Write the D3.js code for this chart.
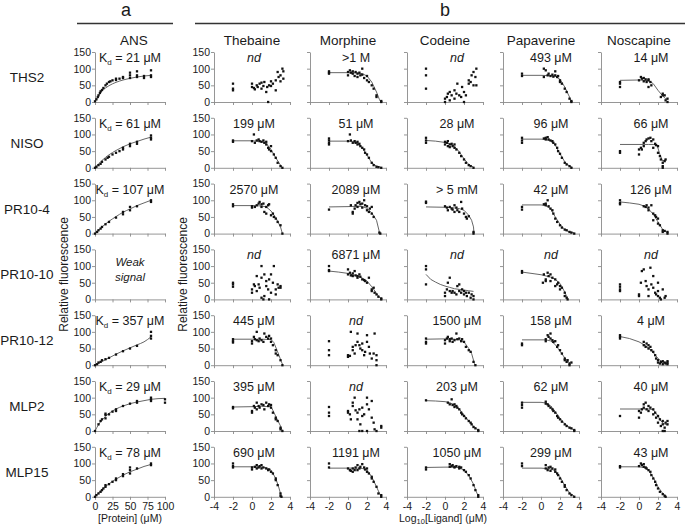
<!DOCTYPE html>
<html><head><meta charset="utf-8">
<script src="https://cdn.jsdelivr.net/npm/d3@7/dist/d3.min.js"></script>
<style>body{margin:0;background:#fff}svg{display:block;font-family:"Liberation Sans",Arial,sans-serif}</style>
</head><body><svg id="c" width="685" height="526"></svg>
<script>
const rows = ["THS2","NISO","PR10-4","PR10-10","PR10-12","MLP2","MLP15"];
const columns = ["ANS","Thebaine","Morphine","Codeine","Papaverine","Noscapine"];
const ansXTicks = [0,25,50,75,100];
const ligXTicks = [-4,-2,0,2,4];
const yTicks = [0,50,100,150];

// annotation text per row, in column order (ANS Kd value, then ligand labels)
const ansKd = ["21","61","107",null,"357","29","78"];
const lab_THS2 = ["nd",">1 M","nd","493 μM","14 μM"];
const lab_NISO = ["199 μM","51 μM","28 μM","96 μM","66 μM"];
const lab_PR10_4 = ["2570 μM","2089 μM","> 5 mM","42 μM","126 μM"];
const lab_PR10_10 = ["nd","6871 μM","nd","nd","nd"];
const lab_PR10_12 = ["445 μM","nd","1500 μM","158 μM","4 μM"];
const lab_MLP2 = ["395 μM","nd","203 μM","62 μM","40 μM"];
const lab_MLP15 = ["690 μM","1191 μM","1050 μM","299 μM","43 μM"];

// ---------- THS2 ----------
const THS2_ANS = [[0,2],[2,8],[4,15],[5,20],[7,27],[8,32],[10,36],[12,42],[15,50],[17,55],[20,60],[22,62],[25,65],[30,66],[30,70],[35,70],[40,72],[40,75],[50,72],[50,80],[50,88],[60,75],[60,80],[60,92],[70,78],[70,72],[80,75],[80,80],[80,95]];
const THS2_ANS_fit = [[0,0],[5,19],[10,33],[15,42],[20,49],[30,59],[40,66],[50,71],[60,75],[70,78],[80,80]];
const THS2_Thebaine = [[-2,55],[-2,40],[-2,35],[0,55],[0,45],[0.2,42],[0.3,38],[0.5,50],[0.6,45],[0.8,55],[1,58],[1,40],[1.2,48],[1.3,60],[1.5,30],[1.6,45],[1.8,50],[2,62],[2,48],[2.2,55],[2.5,35],[2.5,65],[2.7,90],[2.8,75],[3,62],[3,80],[3.2,100],[3.3,92],[3.3,70],[1.7,0]];
const THS2_Morphine = [[-2,92],[-2,88],[-2,85],[0,90],[0,80],[0.2,95],[0.3,88],[0.5,92],[0.5,85],[0.7,78],[0.8,90],[1,85],[1,75],[1.2,88],[1.3,80],[1.5,82],[1.5,100],[1.7,72],[2,78],[2,65],[2.2,60],[2.5,50],[2.7,40],[3,20],[3,15],[3.5,0],[3.5,3]];
const THS2_Morphine_fit = [[-2,88],[0,88],[1,87],[1.5,85],[2,78],[2.5,60],[3,30],[3.3,8],[3.45,0]];
const THS2_Codeine = [[-2,100],[-2,80],[-2,40],[0,0],[0,10],[0.2,15],[0.3,25],[0.5,30],[0.5,5],[0.7,20],[1,10],[1,35],[1.2,25],[1.3,55],[1.5,20],[1.7,15],[1.8,45],[2,30],[2,0],[2.2,20],[2.5,65],[2.5,55],[2.7,60],[2.8,80],[3,50],[3,90],[3.2,75],[3.3,100],[3.3,50]];
const THS2_Papaverine = [[-2,85],[-2,78],[0.3,100],[0.5,95],[0.3,75],[0.7,80],[0.8,85],[1,78],[1.2,82],[1.3,76],[1.5,80],[1.5,92],[1.7,75],[1.8,78],[2,60],[2,65],[2.2,55],[2.5,40],[2.7,30],[3,10],[3.2,0],[3.2,3]];
const THS2_Papaverine_fit = [[-2,80],[0,80],[1,79],[1.5,77],[2,68],[2.5,45],[3,15],[3.2,0]];
const THS2_Noscapine = [[-2,60],[-2,55],[-2,45],[0,65],[0.2,75],[0.3,70],[0.5,72],[0.5,62],[0.7,68],[0.8,60],[1,65],[1,45],[1.2,60],[1.3,50],[1,68],[2.3,15],[2.5,25],[2.5,20],[2.7,20],[2.8,5],[3,10],[3,0]];
const THS2_Noscapine_fit = [[-2,65],[0,66],[1,64],[1.5,55],[2,35],[2.5,18],[2.8,10],[3,8]];

// ---------- NISO ----------
const NISO_ANS = [[0,0],[2,3],[5,8],[8,12],[10,18],[15,25],[18,30],[20,33],[25,40],[30,45],[35,50],[40,55],[40,60],[50,65],[50,72],[60,72],[60,78],[80,85],[80,90],[80,97]];
const NISO_ANS_fit = [[0,0],[10,22],[20,39],[30,52],[40,63],[50,72],[60,79],[70,86],[80,92]];
const NISO_Thebaine = [[-2,82],[-2,78],[0,80],[0.2,100],[0.3,75],[0.5,82],[0.7,85],[0.8,80],[1,78],[1.2,82],[1.3,75],[1.5,70],[1.5,78],[1.7,60],[1.8,55],[2,65],[2,50],[2.3,40],[2.5,30],[2.7,15],[3,5],[3.2,0]];
const NISO_Thebaine_fit = [[-2,81],[0,81],[1,79],[1.5,73],[2,55],[2.5,30],[3,8],[3.2,0]];
const NISO_Morphine = [[-2,88],[-2,82],[-2,75],[-2,70],[0,80],[0.2,100],[0.3,82],[0.5,75],[0.7,80],[0.8,75],[1,78],[1,70],[1.2,72],[1.3,65],[1.5,60],[1.7,55],[1.8,45],[2,40],[2.2,30],[2.5,15],[2.7,8],[3,3],[3.2,2],[3.5,0]];
const NISO_Morphine_fit = [[-2,80],[0,80],[0.5,79],[1,74],[1.5,60],[2,38],[2.5,15],[3,5],[3.5,1]];
const NISO_Codeine = [[-2,90],[-2,82],[-2,75],[0,78],[0,70],[0.2,75],[0.3,65],[0.3,80],[0.5,70],[0.5,62],[0.7,72],[0.8,65],[1,60],[1,70],[1.2,55],[1.5,45],[1.7,35],[2,25],[2.2,15],[2.5,8],[2.7,5],[3,0]];
const NISO_Codeine_fit = [[-2,82],[-1,80],[0,76],[0.5,72],[1,64],[1.5,48],[2,27],[2.5,10],[3,2]];
const NISO_Papaverine = [[-2,90],[-2,82],[-2,75],[0.3,88],[0.5,90],[0.5,85],[0.7,92],[0.8,85],[1,82],[1.2,80],[1.3,75],[1.5,70],[1.7,60],[1.8,50],[2,42],[2.2,30],[2.5,15],[2.7,10],[3,5],[3.2,0]];
const NISO_Papaverine_fit = [[-2,86],[0,86],[0.5,85],[1,81],[1.5,68],[2,42],[2.5,18],[3,5],[3.3,1]];
const NISO_Noscapine = [[-2,50],[-2,45],[0,40],[0,55],[0.2,60],[0.3,55],[0.5,65],[0.5,75],[0.7,80],[0.8,85],[1,88],[1.2,90],[1.3,80],[1.5,85],[1.5,60],[1.7,72],[1.8,68],[2,65],[2,45],[2.2,35],[2.3,25],[2.5,15],[2.5,5],[2.7,20],[2.8,25],[2.5,0]];
const NISO_Noscapine_fit = [[-2,70],[0,70],[1,70],[1.5,70],[1.9,68],[2.2,40],[2.5,20],[2.8,25]];

// ---------- PR10-4 ----------
const PR10_4_ANS = [[0,0],[3,5],[5,10],[8,15],[10,20],[15,28],[20,35],[30,48],[40,58],[40,65],[50,70],[50,80],[60,82],[80,95],[80,100]];
const PR10_4_ANS_fit = [[0,0],[10,20],[20,37],[30,51],[40,64],[50,74],[60,84],[70,92],[80,100]];
const PR10_4_Thebaine = [[-2,88],[-2,82],[0,82],[0,78],[0.3,80],[0.5,85],[0.7,90],[0.8,95],[1,88],[1,80],[1.2,90],[1.3,65],[1.5,60],[1.5,80],[1.7,85],[1.8,88],[2,55],[2.2,60],[2.3,50],[2.5,45],[2.7,35],[3,25],[3.2,0]];
const PR10_4_Thebaine_fit = [[-2,84],[0,84],[1,83],[1.5,80],[2,68],[2.5,48],[3,20],[3.2,0]];
const PR10_4_Morphine = [[-2,72],[0.3,85],[0.5,60],[0.5,65],[0.7,75],[0.8,85],[1,92],[1,80],[1.2,95],[1.3,88],[1.5,90],[1.5,78],[1.7,100],[1.8,85],[2,82],[2,70],[2.2,65],[2.3,75],[2.5,80],[2.5,60],[2.7,50],[3.3,3],[3.4,0]];
const PR10_4_Morphine_fit = [[-2,80],[0,81],[1,82],[1.5,81],[2,76],[2.5,62],[3,40],[3.3,5],[3.4,0]];
const PR10_4_Codeine = [[-2,96],[-2,92],[0,82],[0.2,78],[0.3,70],[0.5,80],[0.7,75],[0.8,72],[1,85],[1,65],[1.2,78],[1.3,70],[1.5,65],[1.7,95],[1.8,75],[2,60],[2.2,50],[2.3,45],[2.5,52],[3,5],[3,0]];
const PR10_4_Codeine_fit = [[-2,80],[0,79],[1,77],[1.5,75],[2,70],[2.5,55],[2.8,40],[3,20],[3.05,0]];
const PR10_4_Papaverine = [[-2,80],[-2,72],[0.3,88],[0.5,90],[0.5,85],[0.7,100],[0.8,82],[1,75],[1.2,70],[1.3,60],[1.5,45],[1.7,35],[2,25],[2.2,18],[2.5,12],[2.7,10],[3,5],[3.2,3],[3.5,0]];
const PR10_4_Papaverine_fit = [[-2,86],[0,86],[0.5,84],[1,75],[1.5,50],[2,28],[2.5,12],[3,5],[3.5,2]];
const PR10_4_Noscapine = [[-2,100],[-2,92],[-2,88],[0.5,82],[0.7,80],[0.8,85],[1,78],[1,70],[1.3,85],[1.5,60],[1.5,40],[1.7,55],[1.8,50],[2,30],[2,45],[2.2,25],[2.5,10],[2.5,5],[2.7,8],[3,5],[3,0]];
const PR10_4_Noscapine_fit = [[-2,95],[-1,92],[0,88],[0.5,83],[1,74],[1.5,58],[2,35],[2.5,12],[3,3]];

// ---------- PR10-10 ----------
const PR10_10_Thebaine = [[-2,50],[-2,45],[-2,38],[0,30],[0,20],[0.2,45],[0.3,40],[0.5,70],[0.5,25],[0.7,45],[0.8,35],[1,100],[1,65],[1,5],[1.2,0],[1.3,75],[1.3,10],[1.5,55],[1.5,40],[1.7,30],[1.8,60],[1.8,0],[2,75],[2,20],[2.2,50],[2.3,100],[2.5,30],[2.5,15],[2.7,45],[2.8,35],[3,40],[3,35]];
const PR10_10_Morphine = [[-2,100],[-2,88],[-2,85],[0,90],[0,75],[0.2,80],[0.3,72],[0.5,78],[0.5,70],[0.7,85],[0.8,72],[1,70],[1,65],[1.2,75],[1.3,68],[1.5,60],[1.7,58],[1.8,55],[2,50],[2.2,65],[2.5,30],[2.5,25],[2.7,35],[2.8,20],[3,15],[3.2,8],[3.5,3],[3.5,0]];
const PR10_10_Morphine_fit = [[-2,85],[-1,82],[0,78],[1,70],[1.5,64],[2,55],[2.5,38],[3,18],[3.5,0]];
const PR10_10_Codeine = [[-2,100],[-2,90],[-2,45],[0,20],[0,10],[0.2,30],[0.3,50],[0.5,65],[0.5,25],[0.7,20],[0.8,25],[1,20],[1.2,15],[1.3,40],[1.5,45],[1.5,25],[1.7,20],[1.8,30],[2,15],[2,25],[2.2,20],[2.3,10],[2.5,20],[2.7,5],[2.8,15],[3,10],[3,0]];
const PR10_10_Codeine_fit = [[-2,75],[-1.5,60],[-1,52],[-0.5,45],[0,40],[0.5,36],[1,32],[1.5,30],[2,28],[2.5,26],[3,24]];
const PR10_10_Papaverine = [[-2,85],[-2,80],[0.2,50],[0.3,75],[0.5,60],[0.5,55],[0.7,80],[0.8,70],[1,75],[1,55],[1.2,65],[1.5,60],[1.5,40],[1.7,45],[1.8,50],[2,40],[2,30],[2.2,35],[2.5,20],[2.5,10],[2.7,5],[2.8,0]];
const PR10_10_Papaverine_fit = [[-2,82],[0,74],[1,67],[1.5,60],[2,48],[2.5,22],[2.8,3]];
const PR10_10_Noscapine = [[-2,45],[-2,38],[-2,30],[-2,25],[0,15],[0,10],[0.2,50],[0.3,85],[0.5,90],[0.7,55],[0.8,40],[1,30],[1,10],[1.2,95],[1.3,45],[1.5,70],[1.5,35],[1.7,20],[1.8,15],[2,25],[2,10],[2,50],[2.2,5],[2.3,0],[2.5,30],[2.7,5],[2.8,10]];

// ---------- PR10-12 ----------
const PR10_12_ANS = [[0,0],[3,3],[5,8],[8,10],[10,15],[15,18],[20,22],[30,32],[40,42],[50,50],[60,58],[80,80],[80,88],[80,100]];
const PR10_12_ANS_fit = [[0,0],[10,11],[20,22],[30,33],[40,43],[50,52],[60,61],[70,70],[80,85]];
const PR10_12_Thebaine = [[-2,78],[-2,72],[-2,68],[0,72],[0,65],[0.2,85],[0.3,78],[0.5,75],[0.5,100],[0.7,72],[0.8,80],[1,75],[1.2,70],[1.3,95],[1.5,85],[1.7,80],[1.8,88],[2,80],[2,70],[2.2,60],[2.5,45],[2.5,35],[2.7,30],[3,15],[3.2,0]];
const PR10_12_Thebaine_fit = [[-2,78],[0,78],[1,78],[2,77],[2.3,68],[2.7,40],[3.1,10],[3.25,0]];
const PR10_12_Morphine = [[-2,72],[-2,45],[-2,30],[0,30],[0,25],[0.2,28],[0.3,100],[0.5,55],[0.5,45],[0.7,35],[0.8,60],[1,95],[1,70],[1.2,60],[1.3,50],[1.5,65],[1.5,45],[1.7,30],[1.8,40],[2,90],[2,70],[2.2,55],[2.3,35],[2.5,20],[2.7,35],[2.8,95],[3,30],[3,15],[3,0]];
const PR10_12_Codeine = [[-2,80],[-2,70],[-2,65],[0,75],[0,65],[0.2,80],[0.3,85],[0.5,78],[0.5,72],[0.7,80],[0.8,70],[1,75],[1.2,95],[1.3,78],[1.5,80],[1.7,72],[1.8,78],[2,70],[2.2,55],[2.5,45],[2.7,40],[3,10],[3.2,0]];
const PR10_12_Codeine_fit = [[-2,78],[0,79],[1,78],[1.5,76],[2,70],[2.5,50],[2.8,35],[3.1,5],[3.2,0]];
const PR10_12_Papaverine = [[-2,65],[-2,60],[0.5,78],[0.5,72],[0.7,90],[0.8,85],[1,95],[1,80],[1.2,75],[1.3,70],[1.5,72],[1.7,55],[1.8,60],[2,45],[2.2,35],[2.5,20],[2.5,15],[2.7,10],[2.8,15],[3,5],[3,0],[3.2,8]];
const PR10_12_Papaverine_fit = [[-2,76],[0,76],[0.5,76],[1,73],[1.5,62],[2,42],[2.5,22],[2.8,12],[3,8]];
const PR10_12_Noscapine = [[-2,90],[-2,85],[-2,80],[0.5,70],[0.5,60],[0.7,55],[0.8,65],[1,50],[1,60],[1.2,55],[1.3,45],[1.5,40],[1.7,30],[1.8,20],[2,15],[2,8],[2.2,5],[2.3,10],[2.5,12],[2.5,3],[2.7,8],[2.8,5],[3,12],[3,8],[3,3]];
const PR10_12_Noscapine_fit = [[-2,86],[-1,80],[0,70],[0.5,62],[1,52],[1.5,38],[2,20],[2.5,8],[3,6]];

// ---------- MLP2 ----------
const MLP2_ANS = [[0,0],[5,20],[8,30],[10,35],[15,38],[15,48],[15,52],[20,50],[25,58],[30,60],[30,65],[40,75],[50,82],[60,85],[60,90],[80,90],[80,95],[80,100],[100,85],[100,95]];
const MLP2_ANS_fit = [[0,0],[5,19],[10,33],[15,44],[20,53],[30,66],[40,75],[50,82],[60,87],[70,91],[80,95],[100,98]];
const MLP2_Thebaine = [[-2,72],[-2,68],[0,60],[0,55],[0.2,75],[0.3,70],[0.5,85],[0.5,65],[0.7,75],[0.8,70],[1,80],[1.2,78],[1.3,65],[1.5,85],[1.7,75],[1.8,80],[2,78],[2,70],[2.2,55],[2.5,40],[2.5,35],[2.7,30],[3,10],[3,5],[3.2,0]];
const MLP2_Thebaine_fit = [[-2,72],[0,73],[1,74],[2,73],[2.2,62],[2.6,38],[3,15],[3.2,0]];
const MLP2_Morphine = [[-2,72],[-2,55],[-2,45],[0,60],[0,55],[0.2,50],[0.3,35],[0.5,85],[0.5,75],[0.7,100],[0.8,62],[1,55],[1,35],[1.2,65],[1.2,0],[1.3,20],[1.5,70],[1.5,45],[1.5,0],[1.7,50],[2,100],[2,80],[2,0],[2.2,65],[2.5,90],[2.5,40],[2.7,25],[2.8,5],[3,0],[3.5,15],[3.5,10]];
const MLP2_Codeine = [[-2,92],[0.3,85],[0.5,80],[0.7,95],[0.8,78],[1,80],[1,72],[1.2,75],[1.3,70],[1.5,65],[1.7,55],[1.8,50],[2,45],[2.2,38],[2.5,30],[2.7,25],[2.8,20],[3,12],[3.2,8],[3.5,0],[3.5,3]];
const MLP2_Codeine_fit = [[-2,91],[-1,90],[0,88],[0.5,85],[1,78],[1.5,66],[2,48],[2.5,30],[3,14],[3.5,2]];
const MLP2_Papaverine = [[-2,85],[-2,78],[-2,70],[0.5,88],[0.5,82],[0.7,80],[0.8,75],[1,70],[1.2,65],[1.3,60],[1.5,55],[1.7,45],[1.8,40],[2,35],[2.2,28],[2.5,20],[2.7,15],[3,10],[3.2,8],[3.5,3],[3.5,0]];
const MLP2_Papaverine_fit = [[-2,86],[0,86],[0.5,84],[1,76],[1.5,58],[2,38],[2.5,22],[3,10],[3.5,3]];
const MLP2_Noscapine = [[-2,45],[0,60],[0,40],[0.2,55],[0.3,65],[0.5,80],[0.5,70],[0.7,85],[0.8,65],[1,75],[1,60],[1.2,70],[1.5,65],[1.5,50],[1.7,55],[1.8,40],[2,45],[2,25],[2.2,35],[2.3,15],[2.5,30],[2.5,20],[2.5,0],[2.7,10],[2.7,0],[2.8,25],[3,30],[3,20]];
const MLP2_Noscapine_fit = [[-2,66],[0,66],[1,66],[1.5,64],[2,45],[2.3,30],[2.6,22],[3,18]];

// ---------- MLP15 ----------
const MLP15_ANS = [[0,0],[2,5],[5,10],[8,15],[10,20],[12,25],[15,30],[15,35],[20,38],[25,45],[30,50],[30,55],[40,62],[40,68],[50,70],[50,80],[50,88],[60,85],[80,95],[80,100]];
const MLP15_ANS_fit = [[0,0],[10,22],[20,39],[30,53],[40,65],[50,75],[60,83],[70,91],[80,97]];
const MLP15_Thebaine = [[-2,100],[-2,92],[-2,88],[0,82],[0,88],[0.3,90],[0.5,95],[0.5,85],[0.7,88],[0.8,92],[1,95],[1,85],[1.2,88],[1.5,85],[1.7,80],[1.8,82],[2,75],[2.2,70],[2.5,55],[2.5,50],[2.7,35],[3,10],[3,3],[3.1,0]];
const MLP15_Thebaine_fit = [[-2,90],[0,90],[1,89],[1.5,87],[2,80],[2.5,55],[2.8,30],[3,10],[3.1,0]];
const MLP15_Morphine = [[-2,100],[-2,88],[0,85],[0.2,80],[0.3,78],[0.5,85],[0.5,75],[0.7,80],[0.8,88],[1,95],[1,80],[1.2,85],[1.3,90],[1.5,98],[1.7,88],[1.8,82],[2,85],[2,75],[2.2,70],[2.5,60],[2.5,55],[2.7,45],[3,30],[3.2,10],[3.5,5],[3.5,0]];
const MLP15_Morphine_fit = [[-2,86],[0,86],[1,86],[1.5,85],[2,80],[2.5,60],[3,30],[3.4,5],[3.5,0]];
const MLP15_Codeine = [[-2,88],[-2,82],[0.5,98],[0.5,90],[0.7,92],[0.8,95],[1,90],[1,88],[1.2,92],[1.5,90],[1.5,85],[1.7,88],[2,80],[2.2,75],[2.5,65],[2.7,55],[3,35],[3.2,20],[3.5,5],[3.5,0]];
const MLP15_Codeine_fit = [[-2,88],[0,89],[1,89],[1.5,87],[2,80],[2.5,64],[3,38],[3.3,15],[3.5,2]];
const MLP15_Papaverine = [[-2,100],[-2,92],[0.5,95],[0.5,85],[0.7,80],[0.8,88],[1,90],[1,78],[1.2,85],[1.5,82],[1.5,75],[1.7,70],[1.8,65],[2,55],[2.2,45],[2.5,35],[2.5,30],[2.7,20],[3,10],[3.2,5],[3.5,0]];
const MLP15_Papaverine_fit = [[-2,86],[0,86],[1,84],[1.5,78],[2,60],[2.5,34],[3,12],[3.5,2]];
const MLP15_Noscapine = [[-2,92],[-2,88],[0,92],[0.2,100],[0.3,95],[0.5,98],[0.5,90],[0.7,88],[0.8,85],[1,80],[1.2,75],[1.3,65],[1.5,55],[1.7,45],[1.8,35],[2,25],[2.2,15],[2.5,8],[2.7,3],[2.8,0]];
const MLP15_Noscapine_fit = [[-2,90],[0,90],[0.5,88],[1,80],[1.5,58],[2,30],[2.5,10],[2.8,3]];

// ---------- tables built from the arrays ----------
const labels = [lab_THS2,lab_NISO,lab_PR10_4,lab_PR10_10,lab_PR10_12,lab_MLP2,lab_MLP15];
const points = [
 [THS2_ANS,THS2_Thebaine,THS2_Morphine,THS2_Codeine,THS2_Papaverine,THS2_Noscapine],
 [NISO_ANS,NISO_Thebaine,NISO_Morphine,NISO_Codeine,NISO_Papaverine,NISO_Noscapine],
 [PR10_4_ANS,PR10_4_Thebaine,PR10_4_Morphine,PR10_4_Codeine,PR10_4_Papaverine,PR10_4_Noscapine],
 [[],PR10_10_Thebaine,PR10_10_Morphine,PR10_10_Codeine,PR10_10_Papaverine,PR10_10_Noscapine],
 [PR10_12_ANS,PR10_12_Thebaine,PR10_12_Morphine,PR10_12_Codeine,PR10_12_Papaverine,PR10_12_Noscapine],
 [MLP2_ANS,MLP2_Thebaine,MLP2_Morphine,MLP2_Codeine,MLP2_Papaverine,MLP2_Noscapine],
 [MLP15_ANS,MLP15_Thebaine,MLP15_Morphine,MLP15_Codeine,MLP15_Papaverine,MLP15_Noscapine]
];
const fits = [
 [THS2_ANS_fit,null,THS2_Morphine_fit,null,THS2_Papaverine_fit,THS2_Noscapine_fit],
 [NISO_ANS_fit,NISO_Thebaine_fit,NISO_Morphine_fit,NISO_Codeine_fit,NISO_Papaverine_fit,NISO_Noscapine_fit],
 [PR10_4_ANS_fit,PR10_4_Thebaine_fit,PR10_4_Morphine_fit,PR10_4_Codeine_fit,PR10_4_Papaverine_fit,PR10_4_Noscapine_fit],
 [null,null,PR10_10_Morphine_fit,PR10_10_Codeine_fit,PR10_10_Papaverine_fit,null],
 [PR10_12_ANS_fit,PR10_12_Thebaine_fit,null,PR10_12_Codeine_fit,PR10_12_Papaverine_fit,PR10_12_Noscapine_fit],
 [MLP2_ANS_fit,MLP2_Thebaine_fit,null,MLP2_Codeine_fit,MLP2_Papaverine_fit,MLP2_Noscapine_fit],
 [MLP15_ANS_fit,MLP15_Thebaine_fit,MLP15_Morphine_fit,MLP15_Codeine_fit,MLP15_Papaverine_fit,MLP15_Noscapine_fit]
];

// ---------- layout ----------
const svg = d3.select("#c");
const colLeft = [95,214,310,407,503,601];
const colW = [70,76,76,76,76,76];
const labOff = [0,2,8,12,10,12];
const rowZero0 = 102, rowPitch = 65.8, panelH = 50;
const axisCol = "#8a8a8a", txtCol = "#1a1a1a";
const plain = d => String(d);

// headers
svg.append("text").attr("x",126).attr("y",16).attr("text-anchor","middle").attr("font-size",18).attr("fill",txtCol).text("a");
svg.append("text").attr("x",445).attr("y",16).attr("text-anchor","middle").attr("font-size",18).attr("fill",txtCol).text("b");
svg.append("line").attr("x1",77).attr("x2",173).attr("y1",23.5).attr("y2",23.5).attr("stroke","#333").attr("stroke-width",1.4);
svg.append("line").attr("x1",195).attr("x2",685).attr("y1",23.5).attr("y2",23.5).attr("stroke","#333").attr("stroke-width",1.4);

columns.forEach((c,j)=>{
  svg.append("text").attr("x",colLeft[j]+colW[j]/2+(j===0?4:0)).attr("y",45).attr("text-anchor","middle")
    .attr("font-size",13.5).attr("fill",txtCol).text(c);
});

rows.forEach((r,i)=>{
  const y0 = rowZero0 + i*rowPitch;
  svg.append("text").attr("x",27).attr("y",y0-panelH/2+5).attr("text-anchor","middle")
    .attr("font-size",13.5).attr("fill",txtCol).text(r);
  columns.forEach((c,j)=>{
    const g = svg.append("g");
    const x = j===0 ? d3.scaleLinear().domain([0,100]).range([colLeft[j],colLeft[j]+colW[j]])
                    : d3.scaleLinear().domain([-4,4]).range([colLeft[j],colLeft[j]+colW[j]]);
    const y = d3.scaleLinear().domain([0,150]).range([y0,y0-panelH]);
    const last = i===rows.length-1;
    const xa = d3.axisBottom(x).tickValues(j===0?ansXTicks:ligXTicks).tickSize(3).tickSizeOuter(0)
      .tickFormat(last ? plain : "");
    const gx = g.append("g").attr("transform",`translate(0,${y0})`).call(xa);
    const ya = d3.axisLeft(y).tickValues(yTicks).tickSize(3).tickSizeOuter(0)
      .tickFormat(j<2 ? plain : "");
    const gy = g.append("g").attr("transform",`translate(${colLeft[j]},0)`).call(ya);
    [gx,gy].forEach(a=>{
      a.selectAll("path,line").attr("stroke",axisCol).attr("stroke-width",0.9);
      a.selectAll("text").attr("fill",txtCol).attr("font-size",10.5).attr("font-family","Liberation Sans, Arial, sans-serif");
    });
    gy.selectAll("text").attr("x",-4);
    gx.selectAll("text").attr("y",6);

    const f = fits[i][j];
    if (f) {
      const line = d3.line().x(d=>x(d[0])).y(d=>y(d[1]));
      if (j===0) line.curve(d3.curveMonotoneX);
      g.append("path").attr("d",line(f)).attr("fill","none").attr("stroke","#555").attr("stroke-width",0.9);
    }
    g.selectAll("rect.p").data(points[i][j]).join("rect")
      .attr("x",d=>x(d[0])-1.15).attr("y",d=>y(d[1])-1.15).attr("width",2.3).attr("height",2.3).attr("fill","#111");

    const cx = colLeft[j]+colW[j]/2 + labOff[j];
    const ty = y(132)+4;
    if (j===0) {
      if (ansKd[i]) {
        const t = g.append("text").attr("x",cx).attr("y",ty).attr("text-anchor","middle").attr("font-size",12.5).attr("fill",txtCol);
        t.append("tspan").text("K");
        t.append("tspan").attr("font-size",8).attr("dy",3).text("d");
        t.append("tspan").attr("dy",-3).text(" = "+ansKd[i]+" μM");
      } else {
        g.append("text").attr("x",cx).attr("y",y(100)).attr("text-anchor","middle").attr("font-size",11.5)
          .attr("font-style","italic").attr("fill",txtCol).text("Weak");
        g.append("text").attr("x",cx).attr("y",y(55)).attr("text-anchor","middle").attr("font-size",11.5)
          .attr("font-style","italic").attr("fill",txtCol).text("signal");
      }
    } else {
      const s = labels[i][j-1];
      g.append("text").attr("x",cx).attr("y",ty).attr("text-anchor","middle").attr("font-size",12.5)
        .attr("font-style", s==="nd"?"italic":"normal").attr("fill",txtCol).text(s);
    }
  });
});

const midY = rowZero0 + (rows.length-1)*rowPitch/2 - panelH/2;
[68,187].forEach(xx=>{
  svg.append("text").attr("transform",`translate(${xx},${midY}) rotate(-90)`).attr("text-anchor","middle")
    .attr("font-size",12).attr("fill",txtCol).text("Relative fluorescence");
});
const yb = rowZero0 + (rows.length-1)*rowPitch + 25;
svg.append("text").attr("x",130).attr("y",yb).attr("text-anchor","middle").attr("font-size",10.5).attr("fill",txtCol).text("[Protein] (μM)");
const lt = svg.append("text").attr("x",443).attr("y",yb).attr("text-anchor","middle").attr("font-size",10.5).attr("fill",txtCol);
lt.append("tspan").text("Log");
lt.append("tspan").attr("font-size",7.5).attr("dy",2).text("10");
lt.append("tspan").attr("dy",-2).text("[Ligand] (μM)");
</script></body></html>
